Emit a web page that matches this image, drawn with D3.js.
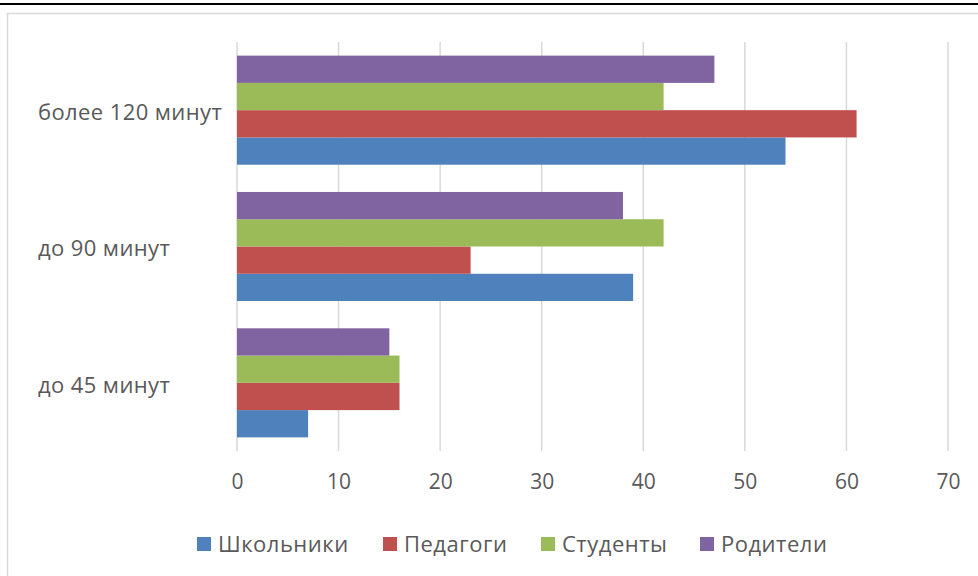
<!DOCTYPE html>
<html>
<head>
<meta charset="utf-8">
<script src="https://cdn.jsdelivr.net/npm/d3@7"></script>
<style>
html,body{margin:0;padding:0;background:#fff;}
svg{display:block;}
text{font-family:"Open Sans",sans-serif;fill:#595959;}
</style>
</head>
<body>
<svg id="chart" width="978" height="576"></svg>
<script>
const categories = ["более 120 минут", "до 90 минут", "до 45 минут"];
const seriesNames = ["Школьники", "Педагоги", "Студенты", "Родители"];
const seriesColors = ["#4F81BD", "#C0504D", "#9BBB59", "#8064A2"];
const shkolniki = [54, 39, 7];
const pedagogi = [61, 23, 16];
const studenty = [42, 42, 16];
const roditeli = [47, 38, 15];
const tickValues = [0, 10, 20, 30, 40, 50, 60, 70];

const seriesValues = [shkolniki, pedagogi, studenty, roditeli];

const svg = d3.select("#chart");

// top black rule and chart frame
svg.append("line").attr("x1", 0).attr("x2", 978).attr("y1", 4).attr("y2", 4)
  .attr("stroke", "#000").attr("stroke-width", 2);
svg.append("rect").attr("x", 7.5).attr("y", 13.5).attr("width", 980).attr("height", 580)
  .attr("fill", "none").attr("stroke", "#d9d9d9").attr("stroke-width", 1.5);

const x = d3.scaleLinear().domain([0, 70]).range([237, 948]);
const y = d3.scaleBand().domain(categories).range([42, 451]).paddingInner(0.2).paddingOuter(0.1);
// series drawn bottom (Школьники) to top (Родители)
const ySub = d3.scaleBand().domain(seriesNames.slice().reverse()).range([0, y.bandwidth()]);

// gridlines
svg.append("g").selectAll("line").data(tickValues).join("line")
  .attr("x1", d => x(d)).attr("x2", d => x(d))
  .attr("y1", 42).attr("y2", 451)
  .attr("stroke", "#d9d9d9").attr("stroke-width", 1.5);

// bars
const groups = svg.append("g").selectAll("g").data(categories).join("g")
  .attr("transform", c => `translate(0,${y(c)})`);
groups.selectAll("rect")
  .data((c, ci) => seriesNames.map((s, si) => ({s, si, v: seriesValues[si][ci]})))
  .join("rect")
  .attr("x", x(0))
  .attr("y", d => ySub(d.s))
  .attr("width", d => x(d.v) - x(0))
  .attr("height", ySub.bandwidth())
  .attr("fill", d => seriesColors[d.si]);

// x axis labels
const xAxis = d3.axisBottom(x).tickValues(tickValues).tickSize(0).tickPadding(0);
const gx = svg.append("g").attr("transform", "translate(0,474)").call(xAxis);
gx.select(".domain").remove();
gx.selectAll("text").attr("font-size", 21).attr("fill", "#595959")
  .attr("font-family", "'Open Sans',sans-serif").attr("dy", "0.71em");

// category labels (left aligned)
svg.append("g").selectAll("text").data(categories).join("text")
  .attr("x", 38).attr("y", c => y(c) + y.bandwidth() / 2 + 2)
  .attr("dy", "0.35em").attr("font-size", 22).attr("letter-spacing", 0.4).text(c => c);

// legend
const legendX = [197, 383, 541, 700];
const lg = svg.append("g").selectAll("g").data(seriesNames).join("g")
  .attr("transform", (d, i) => `translate(${legendX[i]},537)`);
lg.append("rect").attr("width", 14).attr("height", 14).attr("fill", (d, i) => seriesColors[i]);
lg.append("text").attr("x", 21).attr("y", 7).attr("dy", "0.35em").attr("font-size", 22)
  .attr("letter-spacing", 0.5).text(d => d);
</script>
</body>
</html>
